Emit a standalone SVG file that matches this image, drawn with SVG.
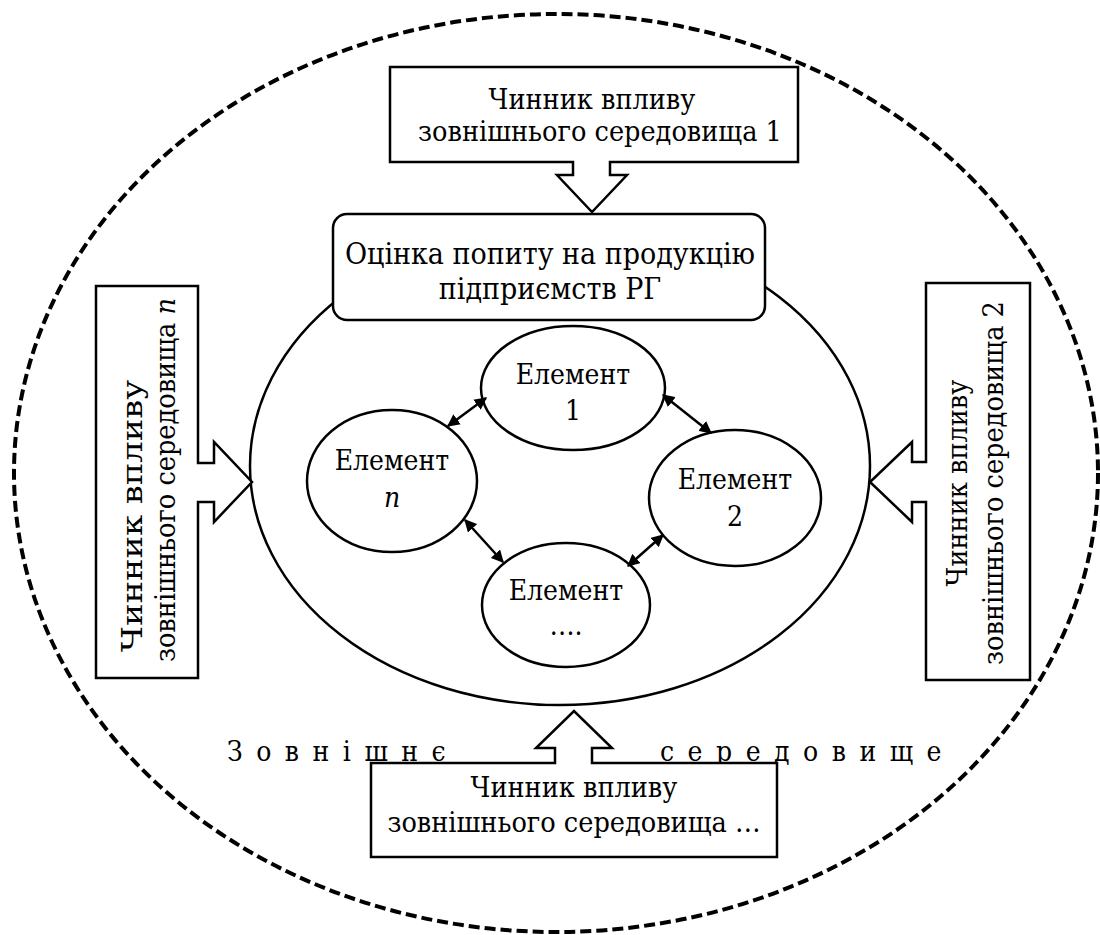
<svg xmlns="http://www.w3.org/2000/svg" width="1100" height="935" viewBox="0 0 1100 935">
  <defs>
    <marker id="head" viewBox="0 0 10 10" refX="9" refY="5" markerWidth="5" markerHeight="5" markerUnits="strokeWidth" orient="auto-start-reverse">
      <path d="M0,0 L10,5 L0,10 Z" fill="#000"/>
    </marker>
  </defs>
  <style>
    .shape { fill: #fff; stroke: #000; stroke-width: 2.5; }
    .env { fill: none; stroke: #000; stroke-width: 4; stroke-dasharray: 11 5; }
    .link { stroke: #000; stroke-width: 2.5; fill: none; marker-start: url(#head); marker-end: url(#head); }
    text { font-family: "DejaVu Serif Condensed", "DejaVu Serif", "Liberation Serif", serif; font-stretch: condensed; font-size: 28.5px; fill: #000; text-anchor: middle; }
    .big { font-size: 30px; }
    .el { font-size: 28px; }
    .spaced { text-anchor: start; letter-spacing: 13.5px; font-size: 28px; }
  </style>

  <rect width="1100" height="935" fill="#fff"/>

  <!-- external environment boundary -->
  <g id="environment">
    <ellipse class="env" cx="556" cy="473" rx="542" ry="459"/>
    <text class="spaced" x="227" y="761" letter-spacing="15">Зовнішнє</text>
    <text class="spaced" x="660" y="761">середовище</text>
  </g>

  <!-- system boundary -->
  <g id="system">
    <ellipse class="shape" cx="560" cy="466" rx="310" ry="239"/>
  </g>

  <!-- external factor 1 (top) -->
  <g id="factor-1">
    <path class="shape" d="M390,67 H798 V162 H610 V175 H627 L592,212 L557,175 H573 V162 H390 Z"/>
    <text x="592" y="109">Чинник впливу</text>
    <text x="600" y="141">зовнішнього середовища 1</text>
  </g>

  <!-- external factor 2 (right) -->
  <g id="factor-2">
    <path class="shape" d="M926,283 H1030 V680 H926 V502 H912 V522 L870,482 L912,442 V462 H926 Z"/>
    <text transform="translate(967,483) rotate(-90)">Чинник впливу</text>
    <text transform="translate(1003,483) rotate(-90)">зовнішнього середовища 2</text>
  </g>

  <!-- external factor n (left) -->
  <g id="factor-n">
    <path class="shape" d="M96,286 H198 V463 H214 V442 L252,482 L214,522 V502 H198 V678 H96 Z"/>
    <text transform="translate(142,516) rotate(-90)" textLength="272" lengthAdjust="spacingAndGlyphs">Чинник впливу</text>
    <text transform="translate(175,480) rotate(-90)">зовнішнього середовища <tspan font-style="italic">n</tspan></text>
  </g>

  <!-- external factor ... (bottom) -->
  <g id="factor-etc">
    <path class="shape" d="M371,763 H555 V748 H536 L574,711 L612,748 H592 V763 H777 V857 H371 Z"/>
    <text x="574" y="797">Чинник впливу</text>
    <text x="574" y="832">зовнішнього середовища …</text>
  </g>

  <!-- demand assessment -->
  <g id="assessment">
    <rect class="shape" x="333" y="214" width="432" height="106" rx="14" ry="14"/>
    <text class="big" x="550" y="264">Оцінка попиту на продукцію</text>
    <text class="big" x="550" y="299">підприємств РГ</text>
  </g>

  <!-- system elements -->
  <g id="element-1">
    <ellipse class="shape" cx="573" cy="388" rx="92" ry="62"/>
    <text class="el" x="573" y="384">Елемент</text>
    <text class="el" x="573" y="420">1</text>
  </g>
  <g id="element-2">
    <ellipse class="shape" cx="735" cy="498" rx="86" ry="68"/>
    <text class="el" x="735" y="489">Елемент</text>
    <text class="el" x="735" y="526">2</text>
  </g>
  <g id="element-etc">
    <ellipse class="shape" cx="566" cy="605" rx="84" ry="62"/>
    <text class="el" x="566" y="600">Елемент</text>
    <text class="el" x="566" y="635">….</text>
  </g>
  <g id="element-n">
    <ellipse class="shape" cx="392" cy="481" rx="85" ry="71"/>
    <text class="el" x="392" y="470">Елемент</text>
    <text class="el" x="392" y="507" font-style="italic">n</text>
  </g>

  <!-- links between elements -->
  <g id="links">
    <line class="link" x1="448" y1="426" x2="486" y2="398"/>
    <line class="link" x1="663" y1="395" x2="711" y2="433"/>
    <line class="link" x1="663" y1="535" x2="628" y2="566"/>
    <line class="link" x1="465" y1="520" x2="503" y2="562"/>
  </g>
</svg>
